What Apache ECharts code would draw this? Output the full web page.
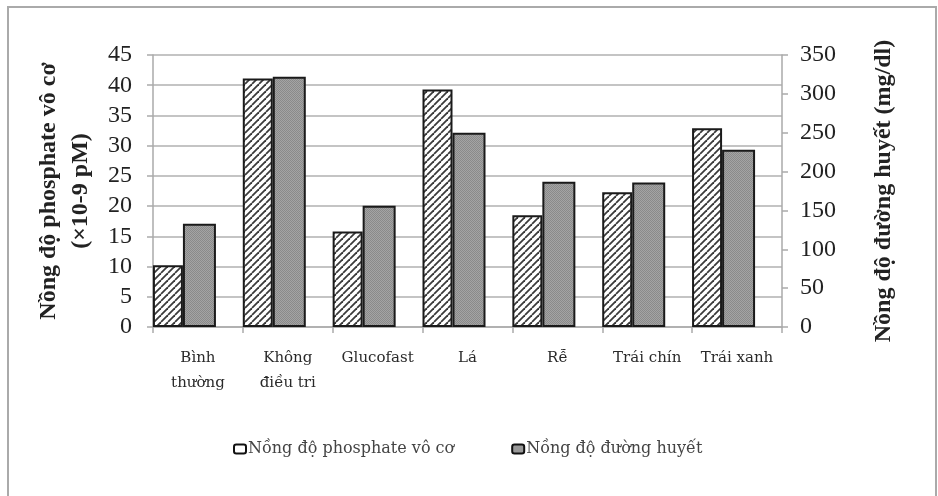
<!DOCTYPE html>
<html>
<head>
<meta charset="utf-8">
<script src="https://cdn.jsdelivr.net/npm/echarts@6/dist/echarts.min.js"></script>
<style>html,body{margin:0;padding:0;background:#fff;}#c{width:938px;height:496px;}</style>
</head>
<body>
<div id="c"></div>
<script>
var categories = ['Bình\nthường', 'Không\nđiều tri', 'Glucofast', 'Lá', 'Rễ', 'Trái chín', 'Trái xanh'];
var phosphate = [10.2, 41.1, 15.8, 39.3, 18.5, 22.3, 32.9];
var glucose = [133, 322, 156, 250, 187, 186, 228];
var leftTicks = {min: 0, max: 45, interval: 5};
var rightTicks = {min: 0, max: 350, interval: 50};
var seriesNames = ['Nồng độ phosphate vô cơ', 'Nồng độ đường huyết'];
var leftTitle = 'Nồng độ phosphate vô cơ\n(×10-9 pM)';
var rightTitle = 'Nồng độ đường huyết (mg/dl)';

function hatch() {
  var c = document.createElement('canvas');
  c.width = 7; c.height = 7;
  var g = c.getContext('2d');
  g.fillStyle = '#ffffff'; g.fillRect(0, 0, 7, 7);
  g.strokeStyle = '#3a3a3a'; g.lineWidth = 1.8;
  for (var k = -7; k <= 7; k += 7) {
    g.beginPath(); g.moveTo(k, 7); g.lineTo(k + 7, 0); g.stroke();
  }
  return c;
}
function stipple() {
  var c = document.createElement('canvas');
  c.width = 2; c.height = 2;
  var g = c.getContext('2d');
  g.fillStyle = '#a4a4a4'; g.fillRect(0, 0, 2, 2);
  g.fillStyle = '#8a8a8a'; g.fillRect(0, 0, 1, 1); g.fillRect(1, 1, 1, 1);
  return c;
}

var chart = echarts.init(document.getElementById('c'), null, {renderer: 'canvas'});
var serif = 'Liberation Serif';
var wide = 'DejaVu Serif';
chart.setOption({
  animation: false,
  backgroundColor: '#fff',
  graphic: [{
    type: 'rect', shape: {x: 8, y: 7, width: 928, height: 500},
    style: {fill: 'none', stroke: '#aaaaaa', lineWidth: 2}, z: -1
  }],
  grid: {left: 153, right: 156, top: 55, bottom: 169},
  legend: {
    left: 228, top: 436, itemWidth: 12, itemHeight: 9, itemGap: 57,
    icon: 'roundRect',
    textStyle: {fontFamily: wide, fontSize: 16, color: '#444', padding: [0, 0, 0, -3]},
    data: [
      {name: seriesNames[0], itemStyle: {color: '#ffffff', borderColor: '#111', borderWidth: 2}},
      {name: seriesNames[1], itemStyle: {color: '#999999', borderColor: '#111', borderWidth: 2}}
    ]
  },
  xAxis: {
    type: 'category', data: categories,
    axisLine: {show: true, lineStyle: {color: '#aaaaaa', width: 1.5}},
    axisTick: {show: true, length: 6, lineStyle: {color: '#aaaaaa', width: 1.5}},
    axisLabel: {interval: 0, margin: 19, fontFamily: wide, fontSize: 15, lineHeight: 25, color: '#2a2a2a'}
  },
  yAxis: [{
    type: 'value', min: leftTicks.min, max: leftTicks.max, interval: leftTicks.interval,
    name: leftTitle, nameLocation: 'middle', nameGap: 48,
    nameTextStyle: {fontFamily: serif, fontWeight: 'bold', fontSize: 24, lineHeight: 32, color: '#222'},
    axisLine: {show: true, lineStyle: {color: '#aaaaaa', width: 1.5}},
    axisTick: {show: true, length: 6, lineStyle: {color: '#aaaaaa', width: 1.5}},
    axisLabel: {margin: 21, fontFamily: serif, fontSize: 24, color: '#222'},
    splitLine: {show: true, lineStyle: {color: '#c4c4c4', width: 2}}
  }, {
    type: 'value', min: rightTicks.min, max: rightTicks.max, interval: rightTicks.interval,
    name: rightTitle, nameLocation: 'middle', nameGap: 90,
    nameTextStyle: {fontFamily: serif, fontWeight: 'bold', fontSize: 24, color: '#222'},
    axisLine: {show: true, lineStyle: {color: '#aaaaaa', width: 1.5}},
    axisTick: {show: true, length: 6, lineStyle: {color: '#aaaaaa', width: 1.5}},
    axisLabel: {margin: 18, fontFamily: serif, fontSize: 24, color: '#222'},
    splitLine: {show: false}
  }],
  series: [{
    name: seriesNames[0], type: 'bar', yAxisIndex: 0, data: phosphate,
    barWidth: 30, barGap: '0%',
    itemStyle: {color: {image: hatch(), repeat: 'repeat'}, borderColor: '#1a1a1a', borderWidth: 2}
  }, {
    name: seriesNames[1], type: 'bar', yAxisIndex: 1, data: glucose,
    barWidth: 33, barGap: '0%',
    itemStyle: {color: {image: stipple(), repeat: 'repeat'}, borderColor: '#1a1a1a', borderWidth: 2}
  }, {
    name: 'pad', type: 'bar', yAxisIndex: 0, data: categories.map(function () { return null; }),
    barWidth: 27, barGap: '0%', silent: true
  }]
});
</script>
</body>
</html>
